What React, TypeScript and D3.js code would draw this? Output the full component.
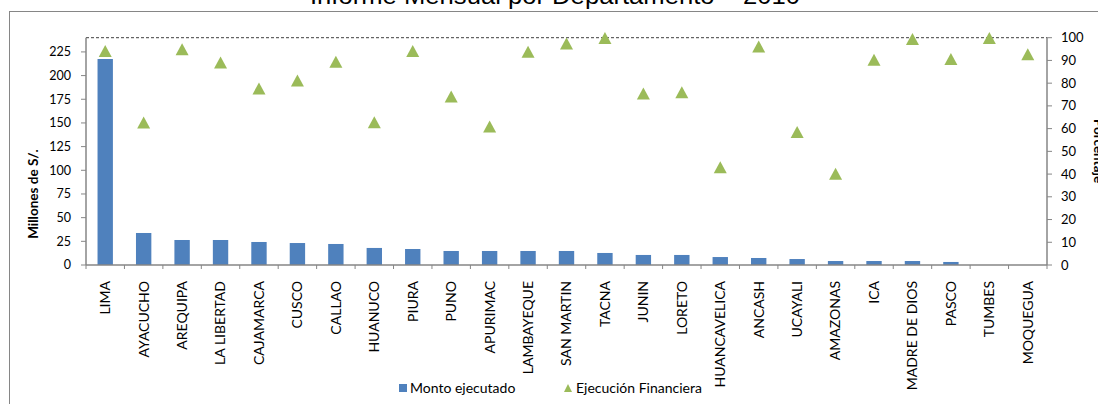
import React from "react";
import * as d3 from "d3";

// Departamentos, monto ejecutado (millones S/.) and ejecución financiera (%)
const departamentos = [
  "LIMA", "AYACUCHO", "AREQUIPA", "LA LIBERTAD", "CAJAMARCA", "CUSCO", "CALLAO",
  "HUANUCO", "PIURA", "PUNO", "APURIMAC", "LAMBAYEQUE", "SAN MARTIN", "TACNA",
  "JUNIN", "LORETO", "HUANCAVELICA", "ANCASH", "UCAYALI", "AMAZONAS", "ICA",
  "MADRE DE DIOS", "PASCO", "TUMBES", "MOQUEGUA",
];
const montoEjecutado = [
  217.5, 33.8, 26.4, 26.4, 24.3, 23.2, 22.2, 18.0, 16.9, 14.8, 14.8, 14.8, 14.8,
  12.7, 10.6, 10.6, 8.4, 7.4, 6.3, 4.2, 4.2, 4.2, 3.2, 0, 0,
];
const ejecucionFinanciera = [
  94.1, 62.7, 94.9, 89.1, 77.7, 81.2, 89.4, 62.8, 94.2, 74.1, 60.9, 93.8, 97.4,
  99.9, 75.5, 76.0, 43.0, 96.1, 58.5, 40.1, 90.3, 99.4, 90.6, 99.9, 92.7,
];
const ticksMonto = [0, 25, 50, 75, 100, 125, 150, 175, 200, 225];
const ticksPct = [0, 10, 20, 30, 40, 50, 60, 70, 80, 90, 100];

const W = 1098;
const H = 404;
const plot = { left: 86, right: 1047, top: 37.7, bottom: 265 };
const axisColor = "#868686";
const barColor = "#4F81BD";
const triColor = "#9BBB59";
const font = "Lato, 'Open Sans', sans-serif";

export default function App() {
  const x = d3.scaleBand<string>().domain(departamentos).range([plot.left, plot.right]).padding(0);
  const yL = d3.scaleLinear().domain([0, 240]).range([plot.bottom, plot.top]);
  const yR = d3.scaleLinear().domain([0, 100]).range([plot.bottom, plot.top]);
  const bw = x.bandwidth() * 0.4;
  const triW = 13, triH = 12;

  return (
    <svg width={W} height={H} style={{ position: "absolute", left: 0, top: 0, background: "#fff" }}
      fontFamily={font}>
      <rect x={9.5} y={11.5} width={1200} height={500} fill="#fff" stroke={axisColor} />
      <text x={555} y={3.5} textAnchor="middle" fontFamily="'Liberation Sans', Arial, sans-serif"
        fontSize={23} textLength={490} lengthAdjust="spacingAndGlyphs">
        Informe Mensual por Departamento – 2010
      </text>

      {/* dashed line at 100% */}
      <line x1={plot.left} x2={plot.right} y1={yR(100)} y2={yR(100)} stroke="#404040"
        strokeDasharray="3,2" strokeWidth={1} />

      {/* bars */}
      {montoEjecutado.map((v, i) => (
        <rect key={departamentos[i]} x={x(departamentos[i])! + x.bandwidth() / 2 - bw / 2}
          y={yL(v)} width={bw} height={plot.bottom - yL(v)} fill={barColor} />
      ))}

      {/* triangles */}
      {ejecucionFinanciera.map((v, i) => {
        const cx = x(departamentos[i])! + x.bandwidth() / 2;
        const cy = yR(v);
        const p = d3.path();
        p.moveTo(cx, cy - triH / 2);
        p.lineTo(cx + triW / 2, cy + triH / 2);
        p.lineTo(cx - triW / 2, cy + triH / 2);
        p.closePath();
        return <path key={departamentos[i]} d={p.toString()} fill={triColor} />;
      })}

      {/* left axis */}
      <line x1={plot.left} x2={plot.left} y1={plot.top} y2={plot.bottom} stroke={axisColor} strokeWidth={1.5} />
      {ticksMonto.map((t) => (
        <g key={t}>
          <line x1={plot.left - 5} x2={plot.left} y1={yL(t)} y2={yL(t)} stroke={axisColor} />
          <text x={71} y={yL(t)} dy="0.35em" textAnchor="end" fontSize={12.5} fill="#000">{t}</text>
        </g>
      ))}

      {/* right axis */}
      <line x1={plot.right} x2={plot.right} y1={plot.top} y2={plot.bottom} stroke={axisColor} strokeWidth={1.5} />
      {ticksPct.map((t) => (
        <g key={t}>
          <line x1={plot.right} x2={plot.right + 5} y1={yR(t)} y2={yR(t)} stroke={axisColor} />
          <text x={1061} y={yR(t)} dy="0.35em" textAnchor="start" fontSize={13} fill="#000">{t}</text>
        </g>
      ))}

      {/* bottom axis */}
      <line x1={plot.left} x2={plot.right} y1={plot.bottom} y2={plot.bottom} stroke={axisColor} strokeWidth={1.5} />
      {departamentos.map((d) => (
        <line key={"t" + d} x1={x(d)!} x2={x(d)!} y1={plot.bottom} y2={plot.bottom + 4} stroke={axisColor} />
      ))}
      <line x1={plot.right} x2={plot.right} y1={plot.bottom} y2={plot.bottom + 4} stroke={axisColor} />
      {departamentos.map((d) => {
        const cx = x(d)! + x.bandwidth() / 2;
        return (
          <text key={"l" + d} transform={`translate(${cx},281) rotate(-90)`} textAnchor="end"
            dy="0.35em" fontSize={14} fill="#000">{d}</text>
        );
      })}

      {/* axis titles */}
      <text transform="translate(38,194) rotate(-90)" textAnchor="middle" fontSize={13.5}
        fontWeight="bold" fill="#000">Millones de S/.</text>
      <text transform="translate(1094,151) rotate(90)" textAnchor="middle" fontSize={13.5}
        fontWeight="bold" fill="#000">Porcentaje</text>

      {/* legend */}
      <rect x={399} y={384} width={8} height={8} fill={barColor} />
      <text x={410} y={388} dy="0.35em" fontSize={14} fill="#000">Monto ejecutado</text>
      <path d={`M568,384L572,392L564,392Z`} fill={triColor} />
      <text x={576} y={388} dy="0.35em" fontSize={14} fill="#000">Ejecución Financiera</text>
    </svg>
  );
}
